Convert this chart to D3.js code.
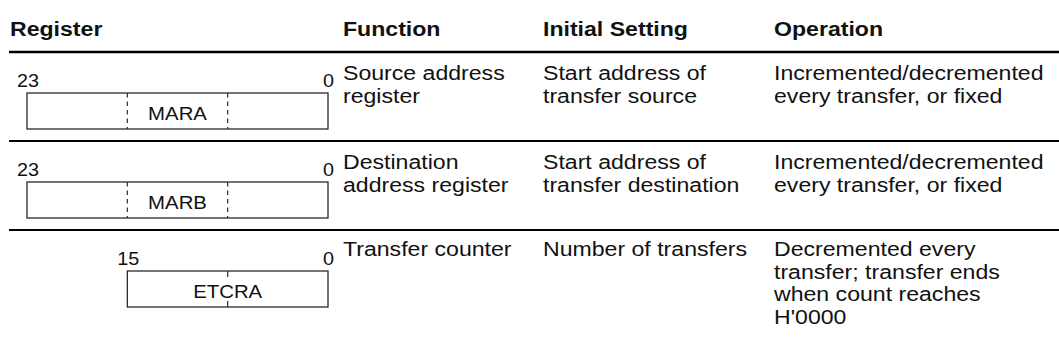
<!DOCTYPE html>
<html><head><meta charset="utf-8">
<script src="https://cdn.jsdelivr.net/npm/d3@7"></script>
<style>
html,body{margin:0;padding:0;background:#fff;}
svg text{font-family:"Liberation Sans",Arial,Helvetica,sans-serif;fill:#111;}
</style></head>
<body><svg id="chart" width="1059" height="354"></svg>
<script>
const headers = ["Register", "Function", "Initial Setting", "Operation"];
const registers = ["MARA", "MARB", "ETCRA"];
const msbBits = [23, 23, 15];
const lsbBits = [0, 0, 0];
const dividers = [[16, 8], [16, 8], [8]];
const functions = [["Source address", "register"], ["Destination", "address register"], ["Transfer counter"]];
const initialSettings = [["Start address of", "transfer source"], ["Start address of", "transfer destination"], ["Number of transfers"]];
const operations = [["Incremented/decremented", "every transfer, or fixed"], ["Incremented/decremented", "every transfer, or fixed"], ["Decremented every", "transfer; transfer ends", "when count reaches", "H'0000"]];

const svg = d3.select("#chart");
const SX = 1.1;
const colX = d3.scaleOrdinal().domain(headers).range([10, 343, 543, 774]);
const rowY = d3.scalePoint().domain(registers).range([52, 230]);
const bitX = d3.scaleLinear().domain([24, 0]).range([27, 328]);
const textOffset = [28, 28, 26];

function txt(g, x, y, s, opts) {
  const t = g.append("text")
    .attr("transform", `translate(${x},${y}) scale(${SX},1)`)
    .attr("font-size", opts.size)
    .text(s);
  if (opts.bold) t.attr("font-weight", "bold");
  if (opts.anchor) t.attr("text-anchor", opts.anchor);
  return t;
}

// headers
headers.forEach(h => txt(svg, colX(h), 36, h, {size: 21, bold: true}));

// rules
svg.append("line").attr("x1", 9).attr("x2", 1059).attr("y1", 52).attr("y2", 52)
  .attr("stroke", "#000").attr("stroke-width", 2.4);
registers.slice(1).forEach(r => {
  svg.append("line").attr("x1", 9).attr("x2", 1059).attr("y1", rowY(r)).attr("y2", rowY(r))
    .attr("stroke", "#000").attr("stroke-width", 2);
});

const lineH = 22.5;
registers.forEach((r, i) => {
  const top = rowY(r);
  const g = svg.append("g");
  const x0 = bitX(msbBits[i] + 1), x1 = bitX(lsbBits[i]);
  const by = top + 41, bh = 36;
  g.append("rect").attr("x", x0).attr("y", by).attr("width", x1 - x0).attr("height", bh)
    .attr("fill", "none").attr("stroke", "#2a2a2a").attr("stroke-width", 1.3);
  const full = msbBits[i] === 23;
  dividers[i].forEach(b => {
    if (full) {
      g.append("line").attr("x1", bitX(b)).attr("x2", bitX(b)).attr("y1", by).attr("y2", by + bh)
        .attr("stroke", "#2a2a2a").attr("stroke-width", 1.2).attr("stroke-dasharray", "4.5,4");
    } else {
      g.append("line").attr("x1", bitX(b)).attr("x2", bitX(b)).attr("y1", by).attr("y2", by + 6)
        .attr("stroke", "#2a2a2a").attr("stroke-width", 1.2);
      g.append("line").attr("x1", bitX(b)).attr("x2", bitX(b)).attr("y1", by + bh - 6).attr("y2", by + bh)
        .attr("stroke", "#2a2a2a").attr("stroke-width", 1.2);
    }
  });
  const nameX = full ? (bitX(16) + bitX(8)) / 2 : (x0 + x1) / 2;
  txt(g, nameX, by + 27, r, {size: 18.5, anchor: "middle"});
  txt(g, x0 - 10, top + 35, String(msbBits[i]), {size: 18});
  txt(g, x1 + 6, top + 35, String(lsbBits[i]), {size: 18, anchor: "end"});

  const cols = [functions[i], initialSettings[i], operations[i]];
  cols.forEach((lines, c) => {
    lines.forEach((s, k) => txt(g, colX(headers[c + 1]), top + textOffset[i] + k * lineH, s, {size: 21}));
  });
});
</script></body></html>
